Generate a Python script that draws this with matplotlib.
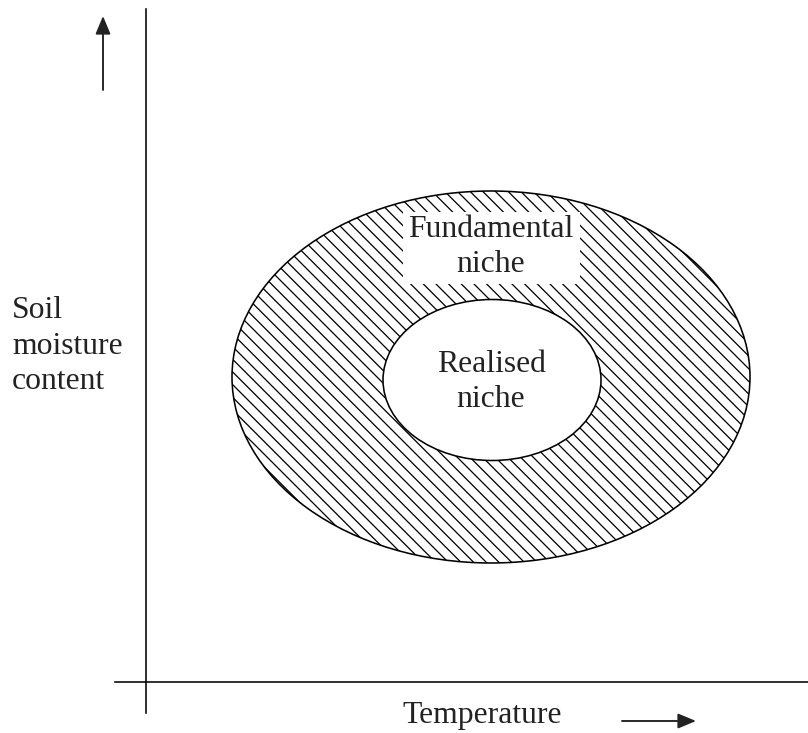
import matplotlib.pyplot as plt
from matplotlib.patches import Ellipse, Rectangle

# niche ellipses: centre x, centre y, width, height (drawing units, y grows downward)
niche_names = ["Fundamental niche", "Realised niche"]
niche_cx = [491, 492]
niche_cy = [377, 380]
niche_w = [518, 218]
niche_h = [372, 161]

# text labels
fund_label = "Fundamental\nniche"
real_label = "Realised\nniche"
y_label = "Soil\nmoisture\ncontent"
x_label = "Temperature"

plt.rcParams['font.family'] = ['Liberation Serif', 'DejaVu Serif']
plt.rcParams['hatch.linewidth'] = 1.2

dpi = 76
fig = plt.figure(figsize=(808 / dpi, 733 / dpi), dpi=dpi)
ax = fig.add_axes([0, 0, 1, 1])
ax.set_xlim(0, 808)
ax.set_ylim(733, 0)
ax.axis('off')

ink = '#222222'
lw = 1.5

# axes lines
ax.plot([146, 146], [9, 713], color='black', lw=lw)
ax.plot([115, 808], [682, 682], color='black', lw=lw)

# direction arrows
ax.annotate("", xy=(103, 16), xytext=(103, 90),
            arrowprops=dict(arrowstyle='-|>,head_length=0.6,head_width=0.25', color=ink,
                            lw=1.8, mutation_scale=24, shrinkA=0, shrinkB=0))
ax.annotate("", xy=(696, 721), xytext=(622, 721),
            arrowprops=dict(arrowstyle='-|>,head_length=0.6,head_width=0.25', color=ink,
                            lw=1.8, mutation_scale=24, shrinkA=0, shrinkB=0))

# outer (fundamental) niche, hatched
outer = Ellipse((niche_cx[0], niche_cy[0]), niche_w[0], niche_h[0],
                facecolor='white', edgecolor='black', hatch='\\\\', lw=lw)
ax.add_patch(outer)
# white box behind the fundamental niche label
ax.add_patch(Rectangle((403, 212), 177, 72, facecolor='white', edgecolor='none', zorder=2))
# inner (realised) niche
inner = Ellipse((niche_cx[1], niche_cy[1]), niche_w[1], niche_h[1],
                facecolor='white', edgecolor='black', lw=lw, zorder=3)
ax.add_patch(inner)

fs = 30
ls = 1.3
ax.text(491, 247, fund_label, ha='center', va='center', fontsize=fs,
        color=ink, linespacing=ls, zorder=4)
ax.text(491, 382, real_label, ha='center', va='center', fontsize=fs,
        color=ink, linespacing=ls, zorder=4)
ax.text(12, 346, y_label, ha='left', va='center', fontsize=fs,
        color=ink, linespacing=ls)
ax.text(482, 716, x_label, ha='center', va='center', fontsize=fs, color=ink)

fig.savefig("out.png", dpi=dpi)
